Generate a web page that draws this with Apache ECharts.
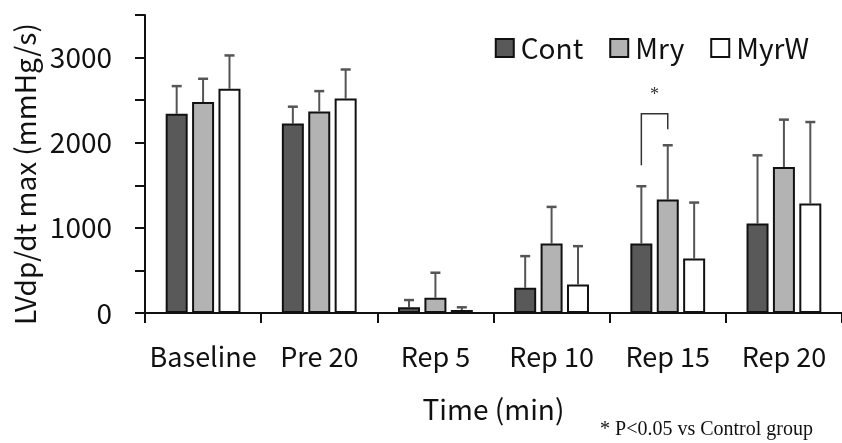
<!DOCTYPE html>
<html>
<head>
<meta charset="utf-8">
<script src="https://cdn.jsdelivr.net/npm/echarts@6/dist/echarts.min.js"></script>
<style>html,body{margin:0;padding:0;background:#fff}#c{width:842px;height:443px}</style>
</head>
<body>
<div id="c"></div>
<script>
var categories = ['Baseline', 'Pre 20', 'Rep 5', 'Rep 10', 'Rep 15', 'Rep 20'];
var seriesNames = ['Cont', 'Mry', 'MyrW'];
var contMean = [2340, 2225, 67, 297, 817, 1051];
var contUpper = [2665, 2423, 152, 668, 1489, 1852];
var mryMean = [2477, 2368, 180, 817, 1333, 1715];
var mryUpper = [2751, 2606, 473, 1246, 1970, 2271];
var myrwMean = [2634, 2520, 35, 336, 641, 1286];
var myrwUpper = [3025, 2860, 67, 785, 1297, 2243];
// significance bracket: [category index, left leg bottom, top, right leg bottom]
var sigBracket = [[4, 1735, 2341, 2157]];
var yTicks = [0, 1000, 2000, 3000];

var FONT = '"Noto Sans CJK JP", "Noto Sans", sans-serif';
var BAR_W = 22, BAR_GAP = 0.2;
var STEP = BAR_W * (1 + BAR_GAP);
var colors = ['#595959', '#b3b3b3', '#ffffff'];
var means = [contMean, mryMean, myrwMean];
var uppers = [contUpper, mryUpper, myrwUpper];

var chart = echarts.init(document.getElementById('c'), null, {renderer: 'canvas'});

var series = [];
seriesNames.forEach(function (name, k) {
  series.push({
    name: name,
    type: 'bar',
    data: means[k],
    barWidth: BAR_W,
    barGap: (BAR_GAP * 100) + '%',
    itemStyle: {color: colors[k], borderColor: '#111', borderWidth: 2},
    z: 3
  });
});
seriesNames.forEach(function (name, k) {
  var data = categories.map(function (c, i) { return [i, means[k][i], uppers[k][i]]; });
  series.push({
    type: 'custom',
    data: data,
    z: 2,
    silent: true,
    renderItem: function (params, api) {
      var i = api.value(0);
      var p0 = api.coord([i, api.value(1)]);
      var p1 = api.coord([i, api.value(2)]);
      var x = p0[0] + (k - 1) * STEP;
      return {
        type: 'group',
        children: [
          {type: 'line', shape: {x1: x, y1: p0[1], x2: x, y2: p1[1]}, style: {stroke: '#555', lineWidth: 2}},
          {type: 'line', shape: {x1: x - 5, y1: p1[1], x2: x + 5, y2: p1[1]}, style: {stroke: '#555', lineWidth: 2.5}}
        ]
      };
    }
  });
});
series.push({
  type: 'custom',
  data: sigBracket,
  z: 4,
  silent: true,
  renderItem: function (params, api) {
    var i = api.value(0);
    var c = api.coord([i, api.value(2)]);
    var lb = api.coord([i, api.value(1)]);
    var rb = api.coord([i, api.value(3)]);
    var xl = c[0] - STEP, xr = c[0];
    return {
      type: 'group',
      children: [
        {type: 'polyline', shape: {points: [[xl, lb[1]], [xl, c[1]], [xr, c[1]], [xr, rb[1]]]}, style: {stroke: '#333', lineWidth: 1.5, fill: null}},
        {type: 'text', style: {text: '*', x: (xl + xr) / 2, y: c[1] - 18, align: 'center', verticalAlign: 'middle', font: '18px "Liberation Serif", serif', fill: '#333'}}
      ]
    };
  }
});

chart.setOption({
  animation: false,
  backgroundColor: '#fff',
  grid: {left: 145, top: 15, width: 702, height: 298, containLabel: false},
  legend: {
    data: seriesNames,
    right: 28, top: 29,
    icon: 'rect',
    itemWidth: 18, itemHeight: 18, itemGap: 26,
    textStyle: {fontFamily: FONT, fontSize: 28, color: '#111', padding: [0, 0, 0, 2]}
  },
  xAxis: {
    type: 'category',
    data: categories,
    name: 'Time (min)',
    nameLocation: 'middle',
    nameGap: 82,
    nameTextStyle: {fontFamily: FONT, fontSize: 28, color: '#111'},
    axisLine: {lineStyle: {color: '#111', width: 2}},
    axisTick: {show: true, length: 10, lineStyle: {color: '#111', width: 2}},
    axisLabel: {fontFamily: FONT, fontSize: 27, color: '#111', margin: 30, interval: 0}
  },
  yAxis: {
    type: 'value',
    min: 0, max: 3500, interval: 500,
    name: 'LVdp/dt max (mmHg/s)',
    nameLocation: 'middle',
    nameRotate: 90,
    nameGap: 106,
    nameTextStyle: {fontFamily: FONT, fontSize: 28, color: '#111', padding: [0, 20, 0, 0]},
    axisLine: {show: true, lineStyle: {color: '#111', width: 2}},
    axisTick: {show: true, length: 10, lineStyle: {color: '#111', width: 2}},
    splitLine: {show: false},
    axisLabel: {
      fontFamily: FONT, fontSize: 28, color: '#111', margin: 33,
      formatter: function (v) { return yTicks.indexOf(v) >= 0 ? String(v) : ''; }
    }
  },
  graphic: [{
    type: 'text',
    right: 29, bottom: 3,
    style: {text: '* P<0.05 vs Control group', font: '20px "Liberation Serif", serif', fill: '#111'}
  }],
  series: series
});
</script>
</body>
</html>
